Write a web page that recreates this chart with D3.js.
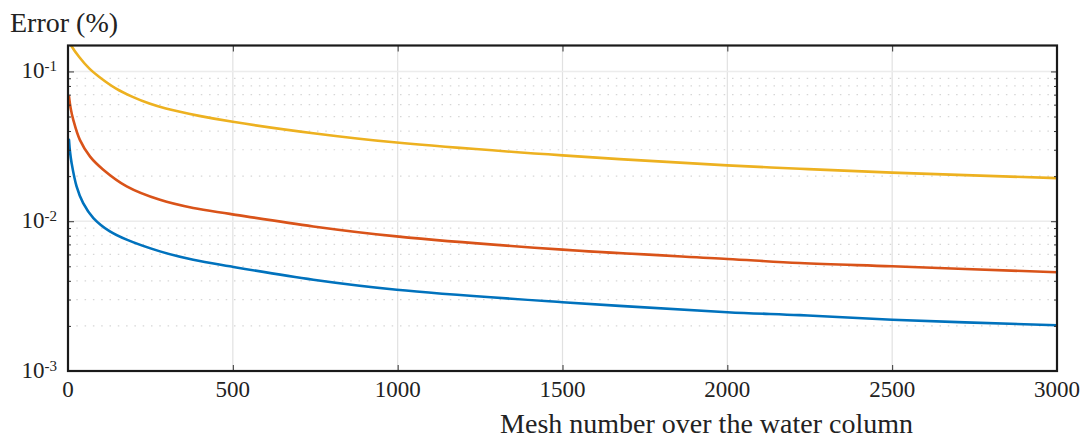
<!DOCTYPE html>
<html>
<head>
<meta charset="utf-8">
<script src="https://cdn.jsdelivr.net/npm/d3@7/dist/d3.min.js"></script>
<style>
  html, body { margin: 0; padding: 0; background: #fff; }
  svg { display: block; }
  text { font-family: "Liberation Serif", "Times New Roman", serif; fill: #222; }
</style>
</head>
<body>
<svg id="chart" width="1082" height="440"></svg>
<script>
// ---- data ----
const yellowN = [1, 9, 34, 65, 95, 146, 196, 247, 297, 398, 500, 744, 997, 1500, 2000, 2220, 2500, 3000];
const yellowErr = [0.162, 0.1496, 0.1249, 0.1044, 0.0919, 0.0768, 0.0676, 0.0610, 0.0565, 0.0505, 0.0461, 0.0387, 0.0335, 0.0275, 0.0236, 0.0224, 0.0211, 0.0194];

const redN = [3, 8, 16, 36, 67, 107, 178, 279, 380, 491, 744, 997, 1500, 2000, 2220, 2500, 3000];
const redErr = [0.068, 0.0569, 0.0475, 0.0349, 0.0270, 0.0221, 0.0171, 0.0139, 0.01225, 0.0112, 0.00923, 0.00792, 0.00646, 0.0056, 0.00526, 0.0050, 0.00456];

const blueN = [3, 6, 11, 26, 46, 77, 127, 178, 279, 380, 491, 744, 997, 1500, 2000, 2220, 2500, 3000];
const blueErr = [0.035, 0.0292, 0.0244, 0.0171, 0.0132, 0.0105, 0.00855, 0.00753, 0.00629, 0.00553, 0.0050, 0.00407, 0.00349, 0.00288, 0.00247, 0.00236, 0.0022, 0.00202];

const xTicks = [0, 500, 1000, 1500, 2000, 2500, 3000];
const yTicks = [1e-3, 1e-2, 1e-1];
const yTickExp = ["-3", "-2", "-1"];
const yMinor = [2e-3,3e-3,4e-3,5e-3,6e-3,7e-3,8e-3,9e-3,2e-2,3e-2,4e-2,5e-2,6e-2,7e-2,8e-2,9e-2];
const yLabel = "Error (%)";
const xLabel = "Mesh number over the water column";

const series = [
  { n: yellowN, v: yellowErr, color: "#EDB120" },
  { n: redN, v: redErr, color: "#D95319" },
  { n: blueN, v: blueErr, color: "#0072BD" }
];

// ---- layout ----
const L = 68, R = 1057, T = 45.5, B = 371;
const svg = d3.select("#chart");

const x = d3.scaleLinear().domain([0, 3000]).range([L, R]);
const y = d3.scaleLog().domain([1e-3, 0.149]).range([B, T]);

// grid: vertical major
svg.append("g").selectAll("line").data(xTicks.slice(1, -1)).join("line")
  .attr("x1", d => x(d)).attr("x2", d => x(d))
  .attr("y1", T).attr("y2", B)
  .attr("stroke", "#e1e1e1").attr("stroke-width", 1.2);

// grid: horizontal minor dotted
svg.append("g").selectAll("line").data(yMinor).join("line")
  .attr("x1", L).attr("x2", R)
  .attr("y1", d => y(d)).attr("y2", d => y(d))
  .attr("stroke", "#d6d6d6").attr("stroke-width", 1.2)
  .attr("stroke-dasharray", "1.5,6.8");

// grid: horizontal major
svg.append("g").selectAll("line").data(yTicks.slice(1)).join("line")
  .attr("x1", L).attr("x2", R)
  .attr("y1", d => y(d)).attr("y2", d => y(d))
  .attr("stroke", "#ececec").attr("stroke-width", 1.5);

// clip
svg.append("clipPath").attr("id", "clip").append("rect")
  .attr("x", L).attr("y", T).attr("width", R - L).attr("height", B - T);

const line = d3.line()
  .x(d => d[0])
  .y(d => d[1])
  .curve(d3.curveCatmullRom.alpha(0.5));

svg.append("g").attr("clip-path", "url(#clip)")
  .selectAll("path").data(series).join("path")
  .attr("d", s => line(s.n.map((n, i) => [x(n), y(s.v[i])])))
  .attr("fill", "none")
  .attr("stroke", s => s.color)
  .attr("stroke-width", 2.6)
  .attr("stroke-linejoin", "round")
  .attr("stroke-linecap", "round");

// axes using d3 axis generators (inward ticks)
const axB = d3.axisBottom(x).tickValues(xTicks).tickSize(-6).tickFormat("");
const axT = d3.axisTop(x).tickValues(xTicks).tickSize(-6).tickFormat("");
svg.append("g").attr("transform", `translate(0,${B})`).call(axB)
  .call(g => g.select(".domain").remove())
  .selectAll("line").attr("stroke", "#333").attr("stroke-width", 1);
svg.append("g").attr("transform", `translate(0,${T})`).call(axT)
  .call(g => g.select(".domain").remove())
  .selectAll("line").attr("stroke", "#333").attr("stroke-width", 1);

const allY = yTicks.concat(yMinor);
const axL = d3.axisLeft(y).tickValues(allY).tickSize(0).tickFormat("");
const gl = svg.append("g").attr("transform", `translate(${L},0)`).call(axL);
gl.select(".domain").remove();
gl.selectAll(".tick line").attr("x2", d => yTicks.includes(d) ? 6 : 3).attr("stroke", "#333");
const axR = d3.axisRight(y).tickValues(allY).tickSize(0).tickFormat("");
const gr = svg.append("g").attr("transform", `translate(${R},0)`).call(axR);
gr.select(".domain").remove();
gr.selectAll(".tick line").attr("x2", d => yTicks.includes(d) ? -6 : -3).attr("stroke", "#333");

// box
svg.append("rect").attr("x", L).attr("y", T).attr("width", R - L).attr("height", B - T)
  .attr("fill", "none").attr("stroke", "#1a1a1a").attr("stroke-width", 2.2);

// x tick labels
svg.append("g").selectAll("text").data(xTicks).join("text")
  .attr("x", d => x(d)).attr("y", 397)
  .attr("text-anchor", "middle")
  .attr("font-size", 23)
  .text(d => d);

// y tick labels (10^k)
const yl = svg.append("g").selectAll("text").data(yTicks).join("text")
  .attr("x", 57).attr("y", d => y(d) + 7)
  .attr("text-anchor", "end")
  .attr("font-size", 23);
yl.append("tspan").text("10");
yl.append("tspan").attr("dy", -7).attr("font-size", 15).text((d, i) => yTickExp[i]);

// axis titles
svg.append("text").attr("x", 10).attr("y", 32).attr("font-size", 28).text(yLabel);
svg.append("text").attr("x", 913).attr("y", 433).attr("text-anchor", "end")
  .attr("font-size", 28).text(xLabel);
</script>
</body>
</html>
